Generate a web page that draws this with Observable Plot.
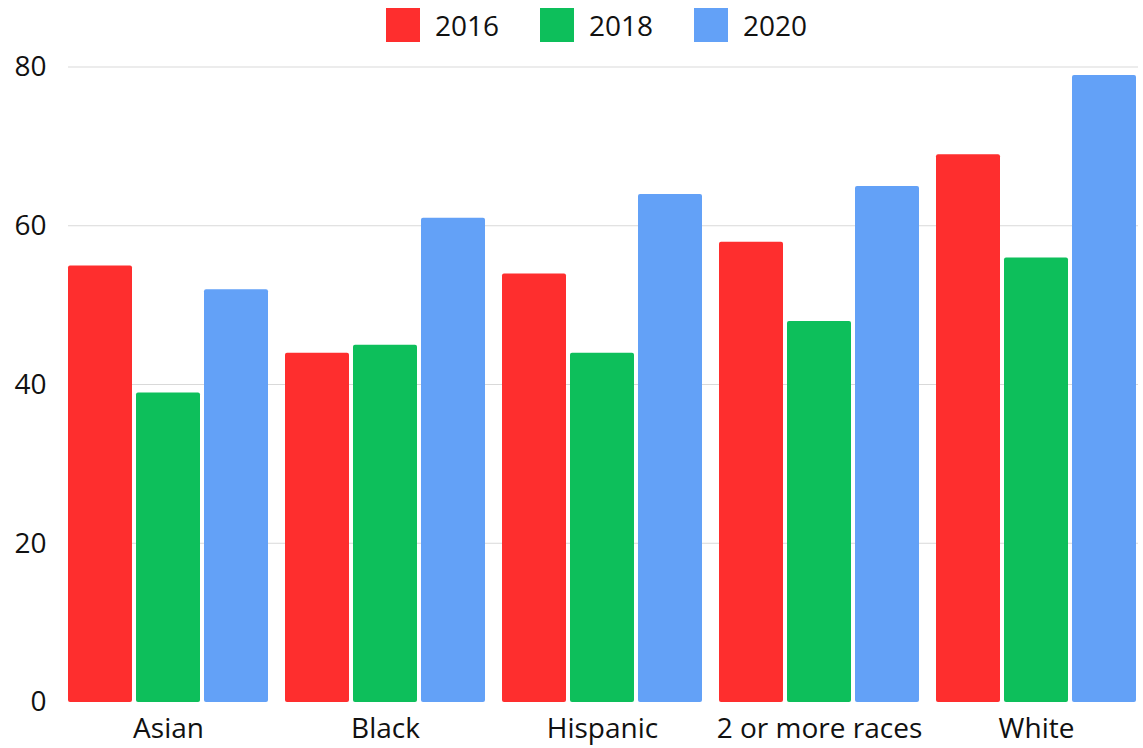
<!DOCTYPE html>
<html><head><meta charset="utf-8">
<script src="https://cdn.jsdelivr.net/npm/d3@7"></script>
<script src="https://cdn.jsdelivr.net/npm/@observablehq/plot@0.6"></script>
<style>
body{margin:0;background:#fff;font-family:"Open Sans",sans-serif;}
#legend{position:absolute;left:0;top:0;width:1143px;height:50px;display:flex;justify-content:center;align-items:center;gap:41px;font-size:28px;color:#111;padding-left:50px;box-sizing:border-box;z-index:2;}
#chart{position:absolute;left:0;top:0;}
.item{display:flex;align-items:center;gap:15px;}
.sw{width:34px;height:34px;display:inline-block;}
</style></head><body>
<div id="chart"></div><div id="legend"></div>
<script>
const categories = ["Asian","Black","Hispanic","2 or more races","White"];
const years = ["2016","2018","2020"];
const v2016 = [55,44,54,58,69];
const v2018 = [39,45,44,48,56];
const v2020 = [52,61,64,65,79];
const yTicks = [0,20,40,60,80];
const colors = ["#fe2e2e","#0dbf5b","#63a1f7"];

const series = [v2016, v2018, v2020];
const data = [];
categories.forEach((c,i)=>years.forEach((y,j)=>data.push({category:c, year:y, value:series[j][i]})));

const legend = document.getElementById("legend");
years.forEach((y,j)=>{
  const it=document.createElement("div"); it.className="item";
  const sw=document.createElement("span"); sw.className="sw"; sw.style.background=colors[j];
  const t=document.createElement("span"); t.textContent=y;
  it.append(sw,t); legend.append(it);
});

// continuous gridlines across facets, positioned by the y scale
const grid = Plot.frame({
  facet:"super",
  render: (index, scales, values, dim) => {
    const g = d3.create("svg:g");
    yTicks.filter(t => t > 0).forEach(t => {
      g.append("line")
        .attr("x1", dim.marginLeft).attr("x2", dim.width - dim.marginRight + 2)
        .attr("y1", scales.y(t)).attr("y2", scales.y(t))
        .attr("stroke", "#d9d9d9").attr("stroke-width", 1.2);
    });
    return g.node();
  }
});

const chart = Plot.plot({
  width:1143, height:748,
  marginLeft:66, marginRight:5, marginTop:67, marginBottom:46,
  style:{fontFamily:'"Open Sans",sans-serif', fontSize:"28px", color:"#111", background:"transparent"},
  fx:{domain:categories, paddingInner:0.08, paddingOuter:0, label:null, tickSize:0, tickPadding:16},
  x:{domain:years, paddingInner:0.06, paddingOuter:0, axis:null},
  y:{domain:[0,80], ticks:yTicks, label:null, tickSize:0, tickPadding:22},
  color:{domain:years, range:colors},
  marks:[
    grid,
    Plot.barY(data, {fx:"category", x:"year", y:"value", fill:"year", rx:2})
  ]
});
document.getElementById("chart").append(chart);
</script></body></html>
